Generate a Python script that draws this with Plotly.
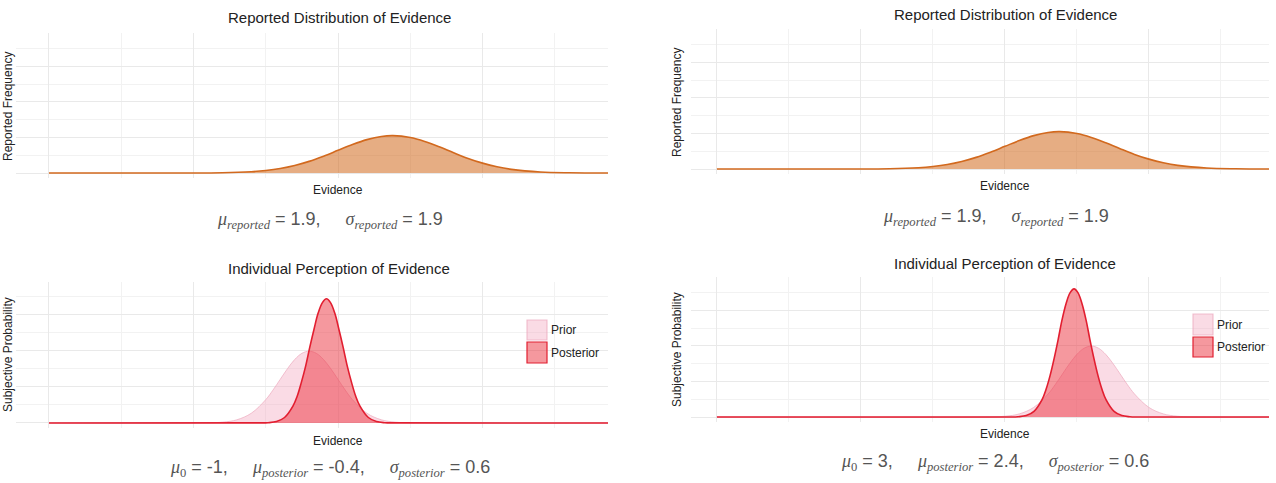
import plotly.graph_objects as go

# ---------------- data ----------------
reported_x = [-10, -6, -4, -3, -2.5, -2, -1.5, -1, -0.5, 0, 0.5, 1, 1.5, 1.9, 2.5, 3,
              3.5, 4, 4.5, 5, 5.5, 6, 7, 8, 10]
reported_y = [0, 0.0000, 0.0017, 0.0075, 0.0144, 0.0255, 0.0424, 0.0655, 0.0946, 0.1274,
              0.1601, 0.1877, 0.2054, 0.2100, 0.1998, 0.1776, 0.1473, 0.1140, 0.0823,
              0.0555, 0.0349, 0.0205, 0.0057, 0.0012, 0]

prior_left_x = [-10, -5, -4, -3.5, -3, -2.5, -2.25, -2, -1.75, -1.5, -1.25, -1, -0.75,
                -0.5, -0.25, 0, 0.25, 0.5, 1, 1.5, 2, 3, 10]
prior_right_x = [-10, -1, 0, 0.5, 1, 1.5, 1.75, 2, 2.25, 2.5, 2.75, 3, 3.25, 3.5, 3.75,
                 4, 4.25, 4.5, 5, 5.5, 6, 7, 10]
prior_y = [0, 0.0001, 0.0044, 0.0175, 0.0540, 0.1295, 0.1826, 0.2420, 0.3011, 0.3521,
           0.3867, 0.3989, 0.3867, 0.3521, 0.3011, 0.2420, 0.1826, 0.1295, 0.0540,
           0.0175, 0.0044, 0.0001, 0]

post_left_x = [-10, -2.71, -2.42, -2.13, -1.85, -1.56, -1.41, -1.27, -1.12, -0.98, -0.83,
               -0.69, -0.54, -0.4, -0.26, -0.11, 0.03, 0.18, 0.32, 0.47, 0.61, 0.76,
               1.05, 1.33, 1.62, 1.91, 10]
post_left_y = [0, 0.0002, 0.0015, 0.0077, 0.0303, 0.0934, 0.1492, 0.2240, 0.3159, 0.4185,
               0.5208, 0.6089, 0.6687, 0.690, 0.6687, 0.6089, 0.5208, 0.4185, 0.3159,
               0.2240, 0.1492, 0.0934, 0.0303, 0.0077, 0.0015, 0.0002, 0]

post_right_x = [-10, 0.18, 0.46, 0.74, 1.01, 1.29, 1.43, 1.57, 1.71, 1.85, 1.98, 2.12,
                2.26, 2.4, 2.54, 2.68, 2.82, 2.95, 3.09, 3.23, 3.37, 3.51, 3.79, 4.06,
                4.34, 4.62, 10]
post_right_y = [0, 0.0002, 0.0016, 0.0080, 0.0316, 0.0974, 0.1557, 0.2338, 0.3296, 0.4367,
                0.5435, 0.6354, 0.6978, 0.720, 0.6978, 0.6354, 0.5435, 0.4367, 0.3296,
                0.2338, 0.1557, 0.0974, 0.0316, 0.0080, 0.0016, 0.0002, 0]

legend_labels = ["Prior", "Posterior"]
top_title = "Reported Distribution of Evidence"
bottom_title = "Individual Perception of Evidence"
x_title = "Evidence"
top_y_title = "Reported Frequency"
bottom_y_title = "Subjective Probability"

# ---------------- layout helpers ----------------
W, H = 1276, 483


def xd(a, b):
    return [a / W, b / W]


def yd(top, bottom):
    return [1 - bottom / H, 1 - top / H]


def px(x):
    return x / W


def py(y):
    return 1 - y / H


REP_LINE = "rgb(210,105,30)"
REP_FILL = "rgba(210,105,30,0.55)"
PRIOR_LINE = "rgba(236,170,190,0.7)"
PRIOR_FILL = "rgba(242,165,190,0.40)"
POST_LINE = "rgb(226,30,48)"
POST_FILL = "rgba(236,50,62,0.50)"

fig = go.Figure()


def add_curve(x, y, ax, line, fill, width):
    fig.add_trace(go.Scatter(
        x=x, y=y, mode="lines", fill="tozeroy", fillcolor=fill,
        line=dict(color=line, width=width, shape="spline", smoothing=1.0),
        xaxis="x" + ax, yaxis="y" + ax, showlegend=False, hoverinfo="skip"))


add_curve(reported_x, reported_y, "", REP_LINE, REP_FILL, 1.6)
add_curve(prior_left_x, prior_y, "2", PRIOR_LINE, PRIOR_FILL, 1.0)
add_curve(post_left_x, post_left_y, "2", POST_LINE, POST_FILL, 1.6)
add_curve(reported_x, reported_y, "3", REP_LINE, REP_FILL, 1.6)
add_curve(prior_right_x, prior_y, "4", PRIOR_LINE, PRIOR_FILL, 1.0)
add_curve(post_right_x, post_right_y, "4", POST_LINE, POST_FILL, 1.6)

GRID = "#E9E9E9"
MINOR = "#F2F2F2"


def xaxis(dom, rng, anchor):
    return dict(domain=dom, range=rng, anchor=anchor, showticklabels=False,
                zeroline=False, showline=False, ticks="", tick0=0, dtick=5,
                showgrid=True, gridcolor=GRID, gridwidth=1,
                minor=dict(dtick=2.5, showgrid=True, gridcolor=MINOR, gridwidth=0.8))


def yaxis(dom, rng, anchor):
    return dict(domain=dom, range=rng, anchor=anchor, showticklabels=False,
                zeroline=False, showline=False, ticks="", tick0=0, dtick=0.2,
                showgrid=True, gridcolor=GRID, gridwidth=1,
                minor=dict(dtick=0.1, showgrid=True, gridcolor=MINOR, gridwidth=0.8))


fig.update_layout(
    width=W, height=H, margin=dict(l=0, r=0, t=0, b=0),
    paper_bgcolor="white", plot_bgcolor="white", showlegend=False,
    font=dict(family="Liberation Sans, Arial, sans-serif", color="#222"),
    xaxis=xaxis(xd(16, 608), [-11.14, 9.34], "y"),
    yaxis=yaxis(yd(33, 178), [-0.028, 0.787], "x"),
    xaxis2=xaxis(xd(16, 608), [-11.14, 9.34], "y2"),
    yaxis2=yaxis(yd(282, 428), [-0.028, 0.783], "x2"),
    xaxis3=xaxis(xd(691, 1269), [-10.90, 9.17], "y3"),
    yaxis3=yaxis(yd(29, 174), [-0.028, 0.787], "x3"),
    xaxis4=xaxis(xd(691, 1269), [-10.90, 9.17], "y4"),
    yaxis4=yaxis(yd(277, 422), [-0.028, 0.787], "x4"),
)

ann = []


def text(x, y, t, size, color="#222", angle=0, xanchor="center"):
    ann.append(dict(x=px(x), y=py(y), xref="paper", yref="paper", text=t,
                    showarrow=False, font=dict(size=size, color=color),
                    textangle=angle, xanchor=xanchor, yanchor="middle"))


SERIF = '<span style="font-family:Liberation Serif">'
FC = "#555"


def sym(s, sub):
    return SERIF + "<i>" + s + "</i><sub><i>" + sub + "</i></sub></span>"


def sym0(s):
    return SERIF + "<i>" + s + "</i><sub>0</sub></span>"


GAP = "&nbsp;" * 5

# left column
text(339, 18, top_title, 15)
text(8, 107, top_y_title, 12, angle=-90)
text(338, 190, x_title, 12)
text(330, 221, sym("μ", "reported") + " = 1.9," + GAP + sym("σ", "reported") + " = 1.9", 18, FC)
text(339, 268, bottom_title, 15)
text(8, 355, bottom_y_title, 12, angle=-90)
text(338, 441, x_title, 12)
text(330, 468, sym0("μ") + " = -1," + GAP + sym("μ", "posterior") + " = -0.4," + GAP +
     sym("σ", "posterior") + " = 0.6", 18, FC)

# right column
text(1005, 15, top_title, 15)
text(677, 103, top_y_title, 12, angle=-90)
text(1005, 186, x_title, 12)
text(996, 217, sym("μ", "reported") + " = 1.9," + GAP + sym("σ", "reported") + " = 1.9", 18, FC)
text(1005, 263, bottom_title, 15)
text(677, 350, bottom_y_title, 12, angle=-90)
text(1005, 434, x_title, 12)
text(995, 462, sym0("μ") + " = 3," + GAP + sym("μ", "posterior") + " = 2.4," + GAP +
     sym("σ", "posterior") + " = 0.6", 18, FC)

# legends (drawn as keys)
shapes = []


def key(x0, y0, y1, fill, line, label):
    shapes.append(dict(type="rect", xref="paper", yref="paper",
                       x0=px(x0), x1=px(x0 + 20), y0=py(y1), y1=py(y0),
                       fillcolor=fill, line=dict(color=line, width=1.2)))
    text(x0 + 22, (y0 + y1) / 2, label, 12, xanchor="left")


key(527, 320, 340, PRIOR_FILL, PRIOR_LINE, legend_labels[0])
key(527, 342, 363, POST_FILL, POST_LINE, legend_labels[1])
key(1193, 314, 335, PRIOR_FILL, PRIOR_LINE, legend_labels[0])
key(1193, 337, 357, POST_FILL, POST_LINE, legend_labels[1])

fig.update_layout(annotations=ann, shapes=shapes)
fig.write_html("out.html")
